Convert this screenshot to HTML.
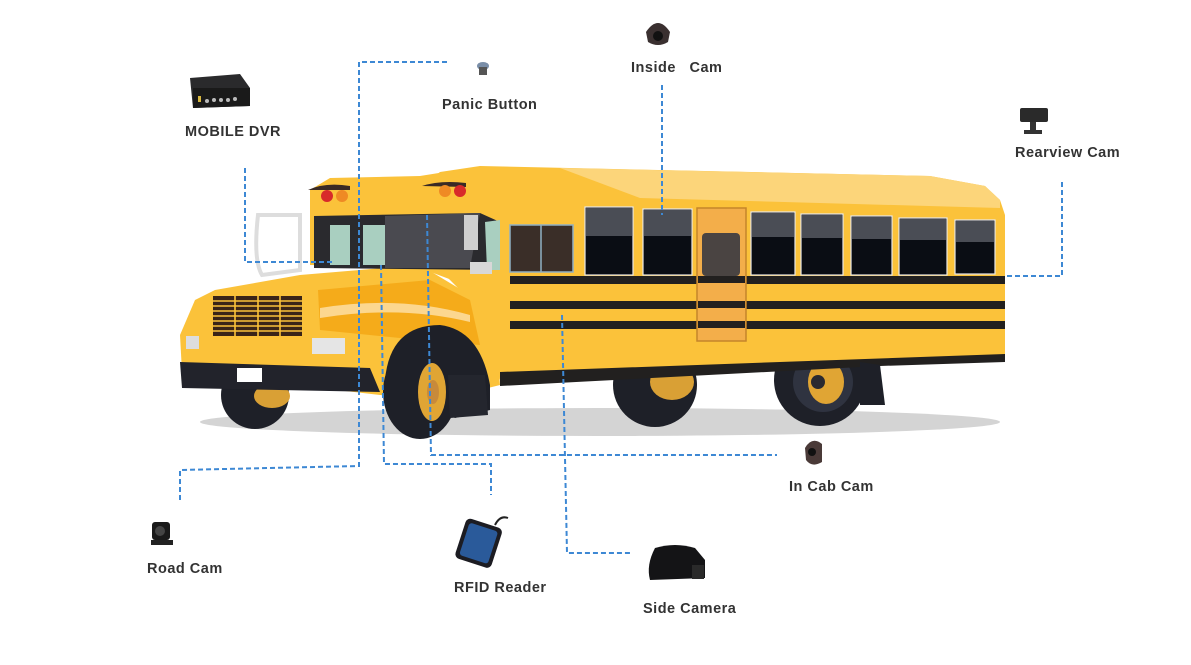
<!DOCTYPE html>
<html><head><meta charset="utf-8"><style>
html,body{margin:0;padding:0;background:#fff;width:1191px;height:665px;overflow:hidden}
svg{display:block}
text{font-family:"Liberation Sans",sans-serif;font-size:14.5px;font-weight:bold;fill:#333;letter-spacing:0.5px}
</style></head><body>
<svg width="1191" height="665" viewBox="0 0 1191 665">
<ellipse cx="600" cy="422" rx="400" ry="14" fill="#d4d4d4"/>
<circle cx="655" cy="385" r="42" fill="#1e2028"/>
<ellipse cx="672" cy="382" rx="22" ry="18" fill="#d9a035"/>
<circle cx="820" cy="380" r="46" fill="#1e2028"/>
<circle cx="823" cy="382" r="30" fill="#2f3340"/>
<ellipse cx="826" cy="382" rx="18" ry="22" fill="#e0a534"/>
<circle cx="818" cy="382" r="7" fill="#2a2a30"/>
<circle cx="255" cy="395" r="34" fill="#1e2028"/>
<ellipse cx="272" cy="396" rx="18" ry="12" fill="#d9a035"/>
<path d="M415,190 L440,172 L480,166 L930,176 L985,186 L1000,200 L1005,215 L1005,360 L880,362 L500,380 L470,300 L440,270 L420,268 Z" fill="#fbc23a"/>
<path d="M560,168 L930,176 L985,186 L1000,200 L1000,208 L640,198 Z" fill="#fcd57a"/>
<path d="M500,372 L1005,354 L1005,362 L880,366 L500,386 Z" fill="#22201f"/>
<path d="M860,362 L880,365 L885,405 L860,405 Z" fill="#1e2028"/>
<path d="M310,190 L330,178 L420,176 L470,168 L500,200 L505,300 L420,268 L310,265 Z" fill="#fbc23a"/>
<path d="M180,335 L195,300 L215,290 L300,275 L420,265 L470,295 L495,330 L500,385 L440,400 L380,395 L182,372 Z" fill="#fbc23a"/>
<path d="M318,290 L430,280 L470,300 L480,345 L420,340 L320,330 Z" fill="#f5ab1a"/>
<path d="M320,308 Q400,295 470,315 L470,322 Q400,305 320,318 Z" fill="#fcd78f"/>
<rect x="510" y="276" width="495" height="8" fill="#22201f"/>
<rect x="510" y="301" width="495" height="8" fill="#22201f"/>
<rect x="510" y="321" width="495" height="8" fill="#22201f"/>
<rect x="697" y="208" width="49" height="133" fill="#f3ae4a" stroke="#c5852a" stroke-width="1.5"/>
<rect x="702" y="233" width="38" height="43" rx="4" fill="#4a4442"/>
<rect x="698" y="276" width="47" height="7" fill="#22201f"/>
<rect x="698" y="301" width="47" height="7" fill="#22201f"/>
<rect x="698" y="321" width="47" height="7" fill="#22201f"/>
<g fill="#0a0d14" stroke="#e8e8e8" stroke-width="1.2">
<rect x="585" y="207" width="48" height="68"/>
<rect x="643" y="209" width="49" height="66"/>
<rect x="751" y="212" width="44" height="63"/>
<rect x="801" y="214" width="42" height="61"/>
<rect x="851" y="216" width="41" height="59"/>
<rect x="899" y="218" width="48" height="57"/>
<rect x="955" y="220" width="40" height="54"/>
</g>
<g fill="#4a4d55">
<rect x="586" y="208" width="46" height="28"/>
<rect x="644" y="210" width="47" height="26"/>
<rect x="752" y="213" width="42" height="24"/>
<rect x="802" y="215" width="40" height="23"/>
<rect x="852" y="217" width="39" height="22"/>
<rect x="900" y="219" width="46" height="21"/>
<rect x="956" y="221" width="38" height="21"/>
</g>
<rect x="510" y="225" width="63" height="47" fill="#3a2e28" stroke="#8fb0c4" stroke-width="1.5"/>
<line x1="541" y1="225" x2="541" y2="272" stroke="#8fb0c4" stroke-width="1.5"/>
<path d="M314,216 L480,213 L500,222 L500,270 L314,268 Z" fill="#2a2a2e"/>
<path d="M385,216 L480,213 L470,268 L385,268 Z" fill="#4a4a50"/>
<rect x="330" y="225" width="20" height="40" fill="#a9cfc0"/>
<rect x="363" y="225" width="22" height="40" fill="#a9cfc0"/>
<path d="M485,222 L500,220 L500,270 L487,270 Z" fill="#a9cfc0"/>
<rect x="464" y="215" width="14" height="35" fill="#cfcfcf"/>
<rect x="470" y="262" width="22" height="12" fill="#d8d8d8"/>
<path d="M258,215 L300,215 L300,270 L262,275 Q253,260 258,215 Z" fill="none" stroke="#ddd" stroke-width="4"/>
<path d="M308,190 Q325,182 350,186 L350,190 Z" fill="#3a2a25"/>
<circle cx="327" cy="196" r="6" fill="#d82a2a"/><circle cx="342" cy="196" r="6" fill="#ef8a24"/>
<path d="M422,186 Q440,180 466,183 L466,187 Z" fill="#3a2a25"/>
<circle cx="445" cy="191" r="6" fill="#ef8a24"/><circle cx="460" cy="191" r="6" fill="#d82a2a"/>
<rect x="213" y="296" width="89" height="40" fill="#3a2418"/>
<g stroke="#fbc23a" stroke-width="1.6">
<line x1="213" y1="301" x2="302" y2="301"/><line x1="213" y1="306" x2="302" y2="306"/><line x1="213" y1="311" x2="302" y2="311"/><line x1="213" y1="316" x2="302" y2="316"/><line x1="213" y1="321" x2="302" y2="321"/><line x1="213" y1="326" x2="302" y2="326"/><line x1="213" y1="331" x2="302" y2="331"/>
<line x1="235" y1="296" x2="235" y2="336"/><line x1="258" y1="296" x2="258" y2="336"/><line x1="280" y1="296" x2="280" y2="336"/>
</g>
<rect x="186" y="336" width="13" height="13" fill="#ddd"/>
<rect x="312" y="338" width="33" height="16" fill="#e5e5e5"/>
<path d="M180,362 L370,368 L380,392 L182,388 Z" fill="#22232b"/>
<rect x="237" y="368" width="25" height="14" fill="#fff"/>
<path d="M385,380 Q390,325 440,325 Q480,330 490,385 L490,410 L455,418 Z" fill="#1e2028"/>
<ellipse cx="420" cy="392" rx="37" ry="47" fill="#1e2028"/>
<ellipse cx="432" cy="392" rx="14" ry="29" fill="#e0a534"/>
<ellipse cx="433" cy="392" rx="6" ry="12" fill="#c88a3a"/>
<path d="M448,375 L485,375 L488,415 L450,418 Z" fill="#24262e"/>
<g fill="none" stroke="#3d88d4" stroke-width="2" stroke-dasharray="5,3">
<polyline points="245,168 245,262 335,262"/>
<polyline points="447,62 359,62 359,466 180,470 180,500"/>
<polyline points="662,85 662,215"/>
<polyline points="1062,182 1062,276 1006,276"/>
<polyline points="381,265 384,464 491,464 491,495"/>
<polyline points="427,215 431,455 777,455"/>
<polyline points="562,315 567,553 632,553"/>
</g>
<path d="M190,78 L240,74 L250,88 L250,106 L193,108 Z" fill="#2a2a2c"/>
<path d="M193,88 L250,88 L250,106 L193,108 Z" fill="#1a1a1a"/>
<g fill="#bbb"><circle cx="207" cy="101" r="2"/><circle cx="214" cy="100" r="2"/><circle cx="221" cy="100" r="2"/><circle cx="228" cy="100" r="2"/><circle cx="235" cy="99" r="2"/></g>
<rect x="198" y="96" width="3" height="6" fill="#d8b840"/>
<ellipse cx="483" cy="66" rx="6" ry="4" fill="#7a8ea8"/><rect x="479" y="67" width="8" height="8" fill="#555"/>
<path d="M646,32 Q658,14 670,32 L668,42 Q658,48 648,42 Z" fill="#3a3030"/>
<circle cx="658" cy="36" r="5" fill="#111"/>
<rect x="1020" y="108" width="28" height="14" rx="2" fill="#2a2a2a"/>
<rect x="1030" y="122" width="6" height="10" fill="#333"/>
<rect x="1024" y="130" width="18" height="4" fill="#333"/>
<path d="M805,448 Q812,436 822,444 L822,462 Q812,468 806,460 Z" fill="#4a3a38"/>
<circle cx="812" cy="452" r="4" fill="#111"/>
<rect x="152" y="522" width="18" height="18" rx="3" fill="#1a1a1a"/>
<circle cx="160" cy="531" r="5" fill="#444"/>
<rect x="151" y="540" width="22" height="5" fill="#222"/>
<g transform="rotate(18 478 542)">
<rect x="460" y="522" width="38" height="42" rx="5" fill="#1c1c22"/>
<rect x="464" y="526" width="30" height="34" rx="3" fill="#2a5a9a"/>
</g>
<path d="M495,525 Q500,515 508,518" stroke="#222" stroke-width="2" fill="none"/>
<path d="M655,548 Q675,542 695,548 L705,560 L705,578 L650,580 Q646,565 655,548 Z" fill="#141416"/>
<rect x="692" y="565" width="12" height="14" fill="#2a2a2a"/>
<text x="185" y="136">MOBILE DVR</text>
<text x="442" y="109">Panic Button</text>
<text x="631" y="72">Inside&#160;&#160;&#160;Cam</text>
<text x="1015" y="157">Rearview Cam</text>
<text x="789" y="491">In Cab Cam</text>
<text x="147" y="573">Road Cam</text>
<text x="454" y="592">RFID Reader</text>
<text x="643" y="613">Side Camera</text>
</svg>
</body></html>
